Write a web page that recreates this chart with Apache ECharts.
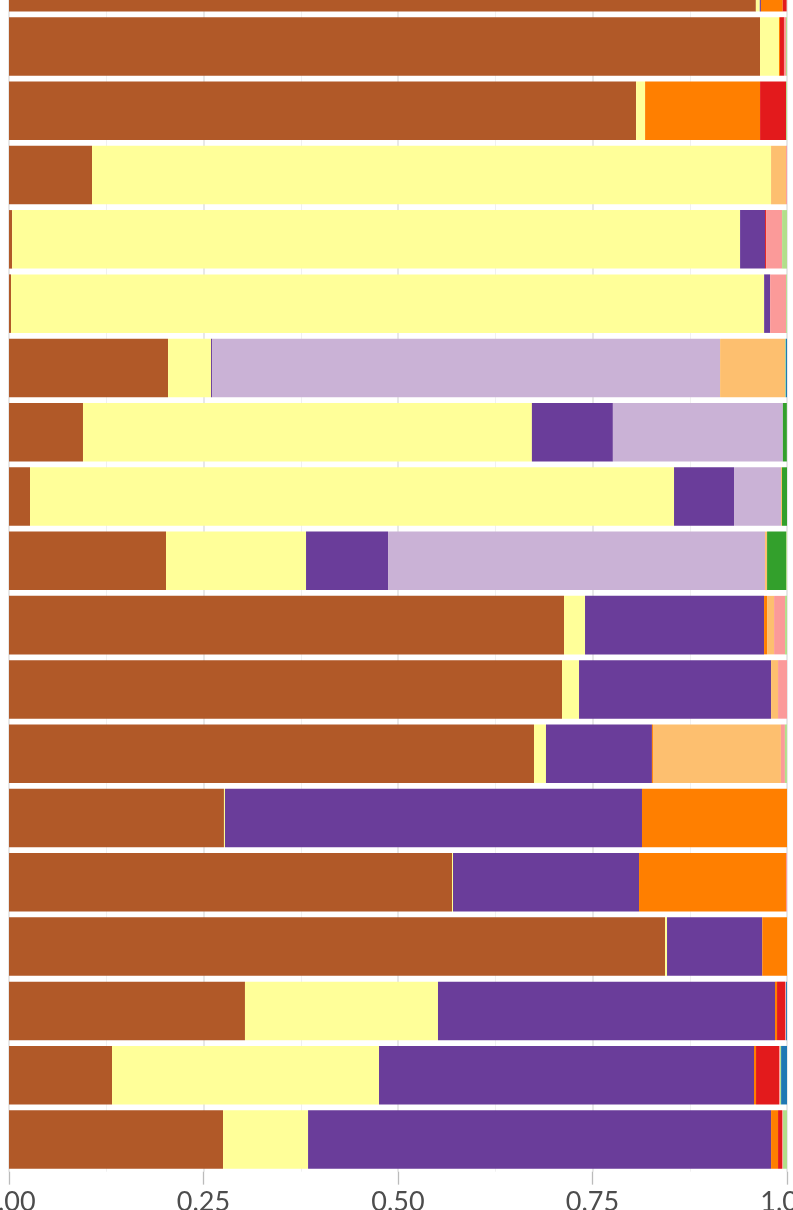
<!DOCTYPE html>
<html>
<head>
<meta charset="utf-8">
<script src="https://cdn.jsdelivr.net/npm/echarts@6/dist/echarts.min.js"></script>
<style>
html,body{margin:0;padding:0;background:#fff;overflow:hidden;width:793px;height:1210px;}
#c{position:absolute;left:0;top:-60px;width:793px;height:1270px;}
</style>
</head>
<body>
<div id="c"></div>
<script>
const categories = ["R01","R02","R03","R04","R05","R06","R07","R08","R09","R10","R11","R12","R13","R14","R15","R16","R17","R18","R19"];
const tickLabels = ["0.00","0.25","0.50","0.75","1.00"];

const brown      = [0.960,0.9653,0.806,0.1067,0.004,0.0026,0.2044,0.0951,0.027,0.2018,0.7134,0.7108,0.6748,0.2763,0.5694,0.8432,0.3033,0.1324,0.2751];
const yellow     = [0.005,0.0244,0.0116,0.8728,0.9357,0.968,0.0553,0.577,0.8278,0.18,0.027,0.0219,0.0154,0.0013,0.0013,0.0026,0.2481,0.3432,0.1093];
const purple     = [0.0015,0,0,0,0.0321,0.0077,0.0013,0.1041,0.0771,0.1054,0.2301,0.2468,0.1362,0.536,0.2391,0.1224,0.4332,0.482,0.5951];
const lavender   = [0,0,0,0,0,0,0.653,0.2185,0.0604,0.4846,0,0,0,0,0,0,0,0,0];
const orange     = [0.028,0.0013,0.1478,0,0,0,0,0,0,0,0.0039,0,0.0013,0.1864,0.1889,0.0318,0.0026,0.0026,0.009];
const lightOrange= [0,0,0,0.0193,0,0,0.0835,0,0.0013,0.0026,0.009,0.009,0.1645,0,0,0,0,0,0];
const red        = [0.005,0.0051,0.0334,0,0.0013,0,0,0,0,0,0,0,0,0,0,0,0.0103,0.0296,0.0051];
const pink       = [0,0.0026,0,0.0013,0.0206,0.0206,0,0,0,0,0.0141,0.0116,0.0051,0,0.0013,0,0.0013,0.0013,0.0013];
const green      = [0,0,0,0,0,0,0,0.0051,0.0064,0.0244,0,0,0,0,0,0,0,0,0];
const lightGreen = [0,0.0013,0.0013,0,0.0064,0.0013,0.001,0,0,0.0013,0.0026,0,0.0026,0,0,0,0,0.0013,0.0051];
const blue       = [0,0,0,0,0,0,0.0015,0,0,0,0,0,0,0,0,0,0.0013,0.0077,0];
const lightBlue  = [0,0,0,0,0,0,0,0,0,0,0,0,0,0,0,0,0,0,0];

const seriesDefs = [
  ["brown", brown, "#B15928"],
  ["yellow", yellow, "#FFFF99"],
  ["purple", purple, "#6A3D9A"],
  ["lavender", lavender, "#CAB2D6"],
  ["orange", orange, "#FF7F00"],
  ["lightOrange", lightOrange, "#FDBF6F"],
  ["red", red, "#E31A1C"],
  ["pink", pink, "#FB9A99"],
  ["green", green, "#33A02C"],
  ["lightGreen", lightGreen, "#B2DF8A"],
  ["blue", blue, "#1F78B4"],
  ["lightBlue", lightBlue, "#A6CEE3"]
];

const chart = echarts.init(document.getElementById('c'), null, {renderer:'canvas'});
chart.setOption({
  backgroundColor:'#ffffff',
  animation:false,
  grid:{left:9,right:6,top:10,bottom:38.35,containLabel:false,outerBoundsMode:'none'},
  xAxis:{
    type:'value', min:0, max:1, interval:0.25,
    axisLine:{show:false},
    axisTick:{show:true,length:13,lineStyle:{color:'#BBBBBB',width:1.3}},
    axisLabel:{show:true,margin:17,fontSize:27,fontFamily:'Lato',color:'#4D4D4D',
      showMinLabel:true,showMaxLabel:true,hideOverlap:false,
      formatter:function(v){const i=Math.round(v/0.25);return tickLabels[i]!==undefined?tickLabels[i]:'';}},
    splitLine:{show:true,lineStyle:{color:'#E0E0E0',width:1.5}},
    minorTick:{show:false,splitNumber:2},
    minorSplitLine:{show:true,lineStyle:{color:'#F0F0F0',width:1}}
  },
  yAxis:{
    type:'category', data:categories, inverse:true,
    axisLine:{show:false}, axisTick:{show:false}, axisLabel:{show:false},
    splitLine:{show:false}
  },
  series: seriesDefs.map(function(d){
    return {name:d[0],type:'bar',stack:'total',data:d[1],barWidth:'91%',
      itemStyle:{color:d[2]},emphasis:{disabled:true}};
  })
});
</script>
</body>
</html>
